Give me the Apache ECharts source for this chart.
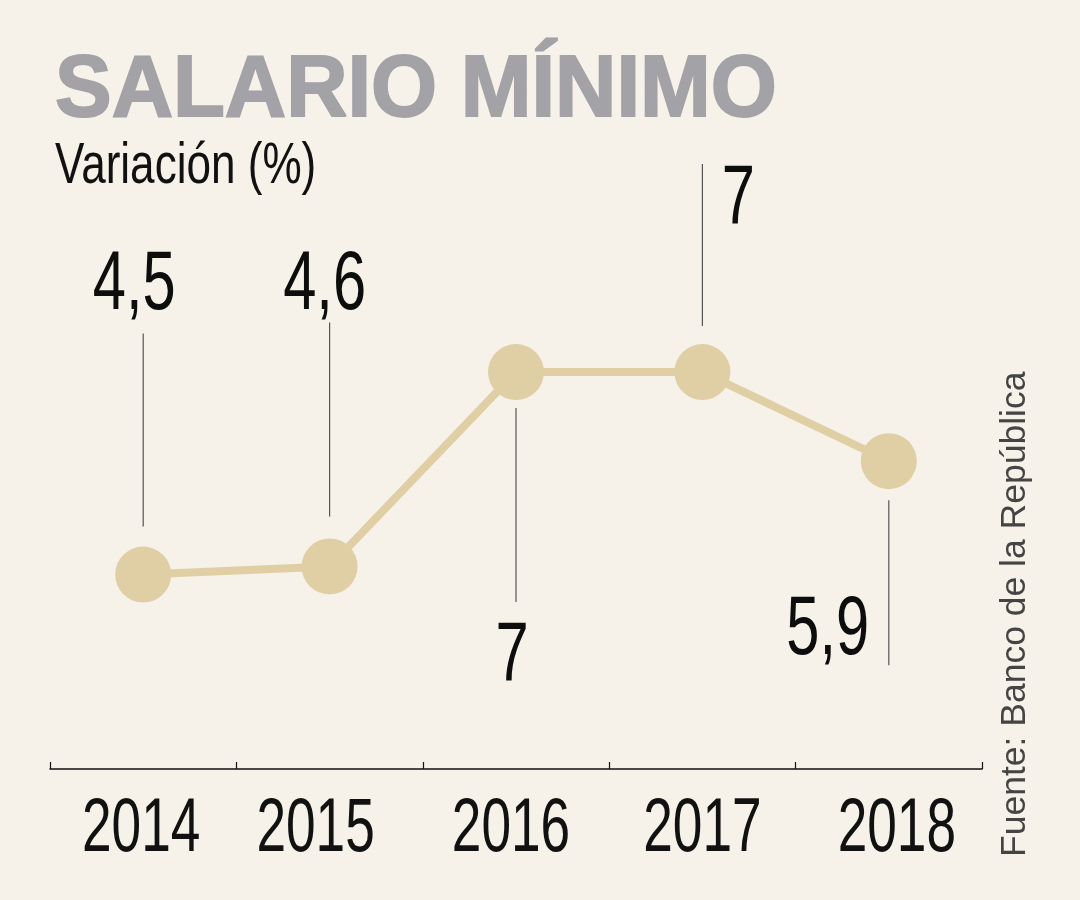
<!DOCTYPE html>
<html>
<head>
<meta charset="utf-8">
<script src="https://cdn.jsdelivr.net/npm/echarts@6/dist/echarts.min.js"></script>
<style>
  html, body { margin: 0; padding: 0; background: #f6f2e9; }
  #salario { width: 1080px; height: 900px; }
</style>
</head>
<body>
<div id="salario"></div>
<script>
// ================================================================
// DONNEES

var years = ['2014', '2015', '2016', '2017', '2018'];
var variacion = [4.5, 4.6, 7, 7, 5.9];

// position des etiquettes / traits de rappel (pixels, relatif au point)
var labelOffsets = [[-9, -289], [-5, -281], [-4, 285], [36, -172], [-61, 170]];
var leaderOffsets = [[-48, -241], [-50, -244], [36, 230], [-46, -208], [39, 204]];
var yearOffsets = [-2, -14, -5, 0, 8];

var color_line = '#e0cfa4';
var color_title = '#a3a2a7';
var fontBase = '"Liberation Sans", sans-serif';

// ================================================================
// GRAPHIQUE : SALARIO MINIMO

var salario = echarts.init(document.getElementById('salario'), null, {renderer: 'canvas'});
var salarioOption = {
  backgroundColor: '#f6f2e9',
  animation: false,
  grid: {left: 50, right: 98, top: 129, bottom: 131},
  xAxis: {
    type: 'category',
    data: years,
    boundaryGap: true,
    axisLine: {lineStyle: {color: '#111', width: 1.5}},
    axisTick: {show: true, interval: 0, inside: true, length: 7, lineStyle: {color: '#111', width: 1.2}},
    axisLabel: {show: false, interval: 0}
  },
  yAxis: {
    type: 'value',
    min: 2.1,
    max: 10,
    show: false,
    splitLine: {show: false}
  },
  series: [
    {
      type: 'line',
      data: variacion,
      symbol: 'circle',
      symbolSize: 56,
      itemStyle: {color: color_line},
      lineStyle: {color: color_line, width: 8},
      emphasis: {disabled: true}
    }
  ]
};
salario.setOption(salarioOption);

// ================================================================
// ETIQUETTES, TRAITS ET TITRES

function formatValue(v) {
  return String(v).replace('.', ',');
}

var graphics = [
  {
    type: 'text',
    x: 55, y: 92,
    scaleX: 0.965,
    style: {
      text: 'SALARIO MÍNIMO',
      fill: color_title,
      stroke: color_title,
      lineWidth: 2,
      font: 'bold 88px ' + fontBase,
      align: 'left',
      verticalAlign: 'middle'
    }
  },
  {
    type: 'text',
    x: 55, y: 167,
    scaleX: 0.76,
    style: {
      text: 'Variación (%)',
      fill: '#111',
      font: '58px ' + fontBase,
      align: 'left',
      verticalAlign: 'middle'
    }
  },
  {
    type: 'text',
    x: 1015, y: 857,
    rotation: Math.PI / 2,
    style: {
      text: 'Fuente: Banco de la República',
      fill: '#444',
      font: '35.5px ' + fontBase,
      align: 'left',
      verticalAlign: 'middle'
    }
  }
];

// annees sous l'axe (condensees)
years.forEach(function (y, i) {
  var p = salario.convertToPixel({xAxisIndex: 0, yAxisIndex: 0}, [i, 2.1]);
  graphics.push({
    type: 'text',
    x: p[0] + yearOffsets[i],
    y: p[1] + 61,
    scaleX: 0.70,
    style: {
      text: y,
      fill: '#111',
      font: '76px ' + fontBase,
      align: 'center',
      verticalAlign: 'middle'
    }
  });
});

variacion.forEach(function (v, i) {
  var p = salario.convertToPixel({seriesIndex: 0}, [i, v]);
  graphics.push({
    type: 'line',
    shape: {x1: p[0], y1: p[1] + leaderOffsets[i][0], x2: p[0], y2: p[1] + leaderOffsets[i][1]},
    style: {stroke: '#555', lineWidth: 1.2}
  });
  graphics.push({
    type: 'text',
    x: p[0] + labelOffsets[i][0],
    y: p[1] + labelOffsets[i][1],
    scaleX: 0.71,
    style: {
      text: formatValue(v),
      fill: '#0d0d0d',
      font: '84px ' + fontBase,
      align: 'center',
      verticalAlign: 'middle'
    }
  });
});

salario.setOption({graphic: graphics});
</script>
</body>
</html>
